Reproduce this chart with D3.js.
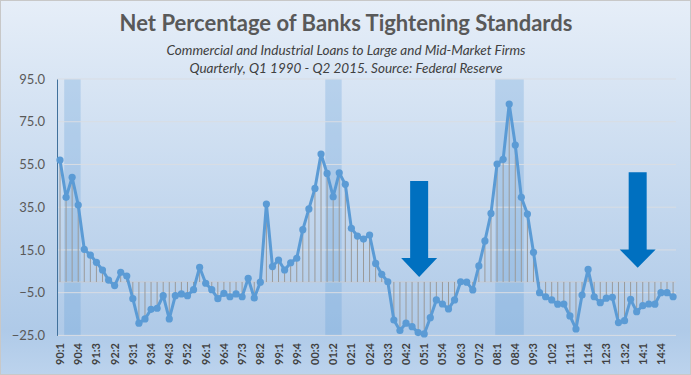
<!DOCTYPE html>
<html lang="en">
	<head>
		<meta charset="utf-8">
		<title>Net Percentage of Banks Tightening Standards</title>
		<script type="text/javascript" src="https://d3js.org/d3.v7.min.js"></script>
		<style type="text/css">
			body { margin: 0; }
			text { font-family: Lato, "Open Sans", sans-serif; }
			.ylab text { font-size: 13px; fill: #595959; }
			.xlab { font-size: 11px; font-weight: bold; fill: #404040; }
		</style>
	</head>
	<body>
		<script type="text/javascript">
			var w = 691;
			var h = 375;

			// quarter labels, Q1 1990 - Q2 2015
			var years = ["90","91","92","93","94","95","96","97","98","99","00","01","02",
				"03","04","05","06","07","08","09","10","11","12","13","14","15"];
			var quarters = [];
			years.forEach(function(y) {
				[1,2,3,4].forEach(function(q) { quarters.push(y + ":" + q); });
			});
			quarters = quarters.slice(0, 102);

			// net % tightening
			var values = [
				57.1, 39.6, 49.0, 36.0, 15.3, 12.6, 9.2, 5.6, 0.9, -1.7,
				4.5, 2.8, -7.8, -19.3, -17.3, -12.8, -12.3, -6.4, -17.3, -6.4,
				-5.6, -6.4, -3.6, 6.9, -0.6, -3.6, -7.8, -5.3, -6.9, -5.6,
				-6.9, 1.7, -7.5, -0.1, 36.5, 7.2, 10.3, 5.6, 9.0, 11.1,
				24.5, 34.2, 43.8, 59.9, 50.8, 39.9, 51.1, 45.7, 25.1, 21.5,
				20.1, 22.0, 8.7, 3.6, 0.1, -17.8, -22.7, -19.3, -20.9, -23.7,
				-24.3, -16.7, -8.4, -10.3, -12.6, -8.4, 0.1, -0.1, -3.7, 7.5,
				19.2, 32.1, 55.2, 57.4, 83.3, 64.1, 39.6, 31.8, 13.9, -5.0,
				-6.9, -8.4, -10.4, -10.3, -15.9, -22.0, -6.1, 5.9, -6.9, -9.7,
				-7.6, -7.2, -19.0, -18.1, -8.1, -13.9, -11.1, -10.3, -10.4, -5.0,
				-5.0, -6.9
			];

			var yTicks = [95, 75, 55, 35, 15, -5, -25];

			// recession shading, first and last quarter
			var recessions = [["90:2", "90:4"], ["01:1", "01:3"], ["08:1", "09:1"]];

			// arrows pointing down: quarter, top of shaft, base of head, tip (in % units)
			var arrows = [
				{ q: "04:4", top: 47.3, head: 11.2, tip: 2.3 },
				{ q: "13:4", top: 51.3, head: 15.2, tip: 6.7 }
			];

			var svg = d3.select("body")
						.append("svg")
						.attr("width", w)
						.attr("height", h);

			var grad = svg.append("defs").append("linearGradient")
						.attr("id", "bg")
						.attr("x1", 0).attr("y1", 0).attr("x2", 0).attr("y2", 1);
			grad.append("stop").attr("offset", "0%").attr("stop-color", "#e6eef8");
			grad.append("stop").attr("offset", "88%").attr("stop-color", "#afcae8");
			grad.append("stop").attr("offset", "100%").attr("stop-color", "#bcd3ed");

			svg.append("rect")
				.attr("x", 0.5).attr("y", 0.5)
				.attr("width", w - 1).attr("height", h - 1)
				.attr("fill", "url(#bg)")
				.attr("stroke", "#c8c8c8");

			var xScale = d3.scalePoint()
				.domain(quarters)
				.range([60, 673.1]);
			var step = xScale.step();

			var yScale = d3.scaleLinear()
				.domain([-25, 95])
				.range([335.4, 79]);

			var left = 57, right = 676;

			// recession bands
			svg.selectAll("rect.rec")
				.data(recessions)
				.enter()
				.append("rect")
				.attr("class", "rec")
				.attr("x", function(d) { return xScale(d[0]) - step * 0.3; })
				.attr("width", function(d) { return xScale(d[1]) - xScale(d[0]) + step * 0.7; })
				.attr("y", yScale(95))
				.attr("height", yScale(-25) - yScale(95))
				.attr("fill", "#5b9bd5")
				.attr("fill-opacity", 0.27);

			// gridlines
			svg.selectAll("line.grid")
				.data(yTicks)
				.enter()
				.append("line")
				.attr("class", "grid")
				.attr("x1", left).attr("x2", right)
				.attr("y1", function(d) { return yScale(d); })
				.attr("y2", function(d) { return yScale(d); })
				.attr("stroke", "#d9dde3")
				.attr("stroke-width", 1);

			// zero line
			svg.append("line")
				.attr("x1", left).attr("x2", right)
				.attr("y1", yScale(0)).attr("y2", yScale(0))
				.attr("stroke", "#c9ccd2");

			// y axis
			var yAxis = d3.axisLeft(yScale)
				.tickValues(yTicks)
				.tickSize(0)
				.tickPadding(12)
				.tickFormat(d3.format(".1f"));

			var yg = svg.append("g")
				.attr("class", "ylab")
				.attr("transform", "translate(" + left + ",0)")
				.call(yAxis);
			yg.select(".domain").attr("stroke", "#41719c");
			yg.selectAll("text").style("font-family", "Lato, sans-serif");

			// drop lines
			svg.selectAll("line.drop")
				.data(values)
				.enter()
				.append("line")
				.attr("class", "drop")
				.attr("x1", function(d, i) { return xScale(quarters[i]); })
				.attr("x2", function(d, i) { return xScale(quarters[i]); })
				.attr("y1", yScale(0))
				.attr("y2", function(d) { return yScale(d); })
				.attr("stroke", "#9a9a9a")
				.attr("stroke-width", 1);

			// line + markers
			var line = d3.line()
				.x(function(d, i) { return xScale(quarters[i]); })
				.y(function(d) { return yScale(d); });

			svg.append("path")
				.datum(values)
				.attr("d", line)
				.attr("fill", "none")
				.attr("stroke", "#5b9bd5")
				.attr("stroke-width", 3)
				.attr("stroke-linejoin", "round");

			svg.selectAll("circle")
				.data(values)
				.enter()
				.append("circle")
				.attr("cx", function(d, i) { return xScale(quarters[i]); })
				.attr("cy", function(d) { return yScale(d); })
				.attr("r", 3.6)
				.attr("fill", "#5b9bd5");

			// arrows
			svg.selectAll("path.arrow")
				.data(arrows)
				.enter()
				.append("path")
				.attr("class", "arrow")
				.attr("fill", "#0070c0")
				.attr("d", function(d) {
					var cx = xScale(d.q) + 1;
					var t = yScale(d.top), hb = yScale(d.head), tip = yScale(d.tip);
					return "M" + (cx - 9) + "," + t + "L" + (cx + 9) + "," + t +
						"L" + (cx + 9) + "," + hb + "L" + (cx + 18) + "," + hb +
						"L" + cx + "," + tip + "L" + (cx - 18) + "," + hb +
						"L" + (cx - 9) + "," + hb + "Z";
				});

			// x labels, every third quarter
			svg.selectAll("text.xlab")
				.data(quarters.filter(function(d, i) { return i % 3 === 0; }))
				.enter()
				.append("text")
				.attr("class", "xlab")
				.attr("text-anchor", "end")
				.attr("transform", function(d) {
					return "translate(" + (xScale(d) + 4) + ",343) rotate(-90)";
				})
				.text(function(d) { return d; });

			// titles
			svg.append("text")
				.attr("x", 346).attr("y", 31)
				.attr("text-anchor", "middle")
				.style("font-size", "22px")
				.style("font-weight", "bold")
				.style("fill", "#595959")
				.text("Net Percentage of Banks Tightening Standards");

			svg.append("text")
				.attr("x", 346).attr("y", 55)
				.attr("text-anchor", "middle")
				.style("font-size", "13.5px")
				.style("font-style", "italic")
				.style("fill", "#404040")
				.text("Commercial and Industrial Loans to Large and Mid-Market Firms");

			svg.append("text")
				.attr("x", 346).attr("y", 73)
				.attr("text-anchor", "middle")
				.style("font-size", "13.5px")
				.style("font-style", "italic")
				.style("fill", "#404040")
				.text("Quarterly, Q1 1990  - Q2 2015.  Source: Federal Reserve");
		</script>
	</body>
</html>
